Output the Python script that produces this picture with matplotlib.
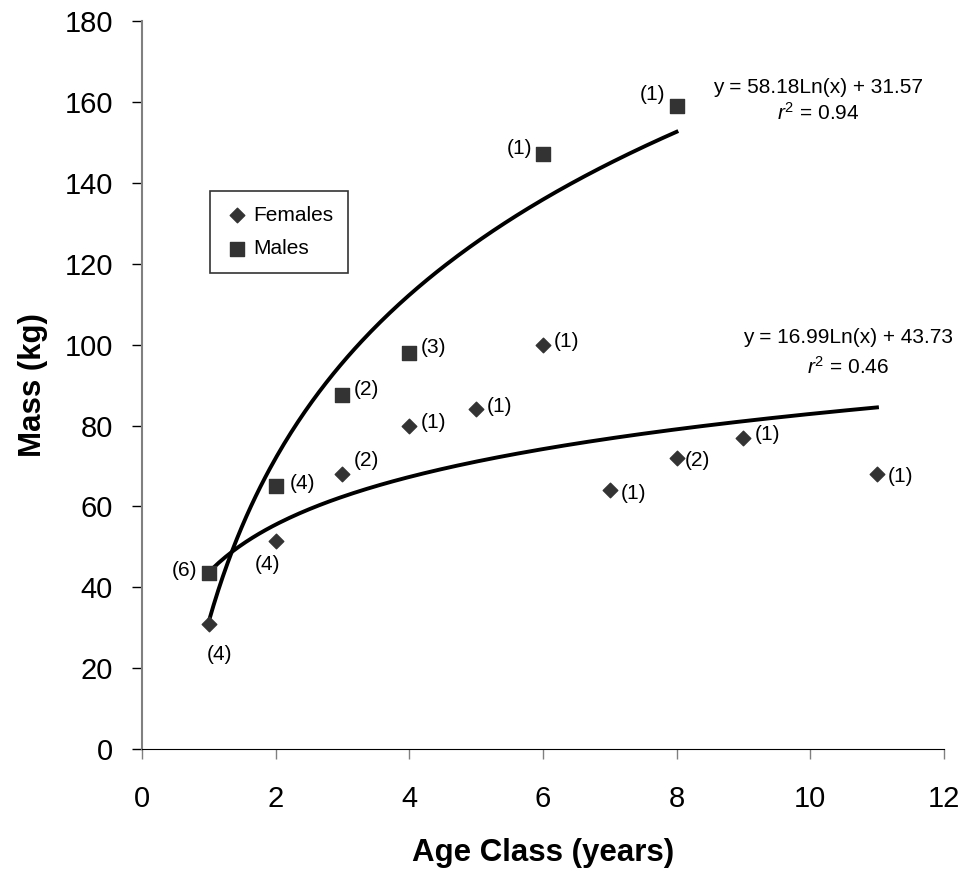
import matplotlib
matplotlib.use('Agg')
import matplotlib.pyplot as plt
import numpy as np

plt.rcParams['font.family'] = ['Liberation Sans', 'DejaVu Sans']
plt.rcParams['mathtext.fontset'] = 'custom'
plt.rcParams['mathtext.rm'] = 'Liberation Sans'
plt.rcParams['mathtext.it'] = 'Liberation Sans:italic'

# data
fem_age = [1, 2, 3, 4, 5, 6, 7, 8, 9, 11]
fem_mass = [31, 51.5, 68, 80, 84, 100, 64, 72, 77, 68]
fem_n = ['(4)', '(4)', '(2)', '(1)', '(1)', '(1)', '(1)', '(2)', '(1)', '(1)']

male_age = [1, 2, 3, 4, 6, 8]
male_mass = [43.5, 65, 87.5, 98, 147, 159]
male_n = ['(6)', '(4)', '(2)', '(3)', '(1)', '(1)']

# trendline coefficients as printed on the chart (a*ln(x) + b)
fit1 = (58.18, 31.57, 1, 8)
fit2 = (16.99, 43.73, 1, 11)

fem_off = [(8, -22), (-6, -17), (8, 10), (8, 2), (8, 2), (8, 2), (8, -2), (6, -2), (8, 2), (8, -2)]
fem_ha = ['center', 'center', 'left', 'left', 'left', 'left', 'left', 'left', 'left', 'left']
male_off = [(-8, 2), (10, 2), (8, 4), (8, 4), (-8, 4), (-8, 8)]
male_ha = ['right', 'left', 'left', 'left', 'right', 'right']

fig = plt.figure(figsize=(9.77, 8.71), dpi=100)
ax = fig.add_axes([0.1453, 0.1397, 0.8207, 0.8365])

for a, b, x0, x1 in (fit1, fit2):
    xs = np.linspace(x0, x1, 200)
    ax.plot(xs, a * np.log(xs) + b, color='black', lw=2.8, zorder=2)

ax.scatter(fem_age, fem_mass, marker='D', s=55, color='#333333', zorder=3, label='Females')
ax.scatter(male_age, male_mass, marker='s', s=105, color='#333333', zorder=3, label='Males')

for x, y, t, o, h in zip(fem_age, fem_mass, fem_n, fem_off, fem_ha):
    ax.annotate(t, (x, y), xytext=o, textcoords='offset points', ha=h, va='center', fontsize=15)
for x, y, t, o, h in zip(male_age, male_mass, male_n, male_off, male_ha):
    ax.annotate(t, (x, y), xytext=o, textcoords='offset points', ha=h, va='center', fontsize=15)

ax.text(10.12, 163.4, 'y = 58.18Ln(x) + 31.57', ha='center', va='center', fontsize=15)
ax.text(10.12, 157.2, r'$\it{r}^2$ = 0.94', ha='center', va='center', fontsize=15)
ax.text(10.57, 101.8, 'y = 16.99Ln(x) + 43.73', ha='center', va='center', fontsize=15)
ax.text(10.57, 94.6, r'$\it{r}^2$ = 0.46', ha='center', va='center', fontsize=15)

ax.set_xlim(0, 12)
ax.set_ylim(0, 180)
ax.set_xticks(np.arange(0, 13, 2))
ax.set_yticks(np.arange(0, 181, 20))
ax.tick_params(direction='out', length=7, width=1, labelsize=21)
ax.tick_params(axis='x', pad=19, color='#808080')
ax.tick_params(axis='y', pad=14, color='black')
ax.spines['top'].set_visible(False)
ax.spines['right'].set_visible(False)
ax.spines['left'].set_color('#808080')
ax.spines['left'].set_linewidth(1.5)
ax.spines['bottom'].set_color('black')

ax.set_xlabel('Age Class (years)', fontsize=22.5, fontweight='bold', labelpad=18)
ax.set_ylabel('Mass (kg)', fontsize=22.5, fontweight='bold', labelpad=12)

leg = ax.legend(loc='upper left', bbox_to_anchor=(0.0715, 0.7805), fontsize=15, frameon=True,
                fancybox=False, edgecolor='black', handletextpad=0.2, labelspacing=0.7,
                borderpad=0.7, handlelength=1.2, scatterpoints=1)
leg.get_frame().set_linewidth(1.2)

plt.savefig('out.png', dpi=100)
